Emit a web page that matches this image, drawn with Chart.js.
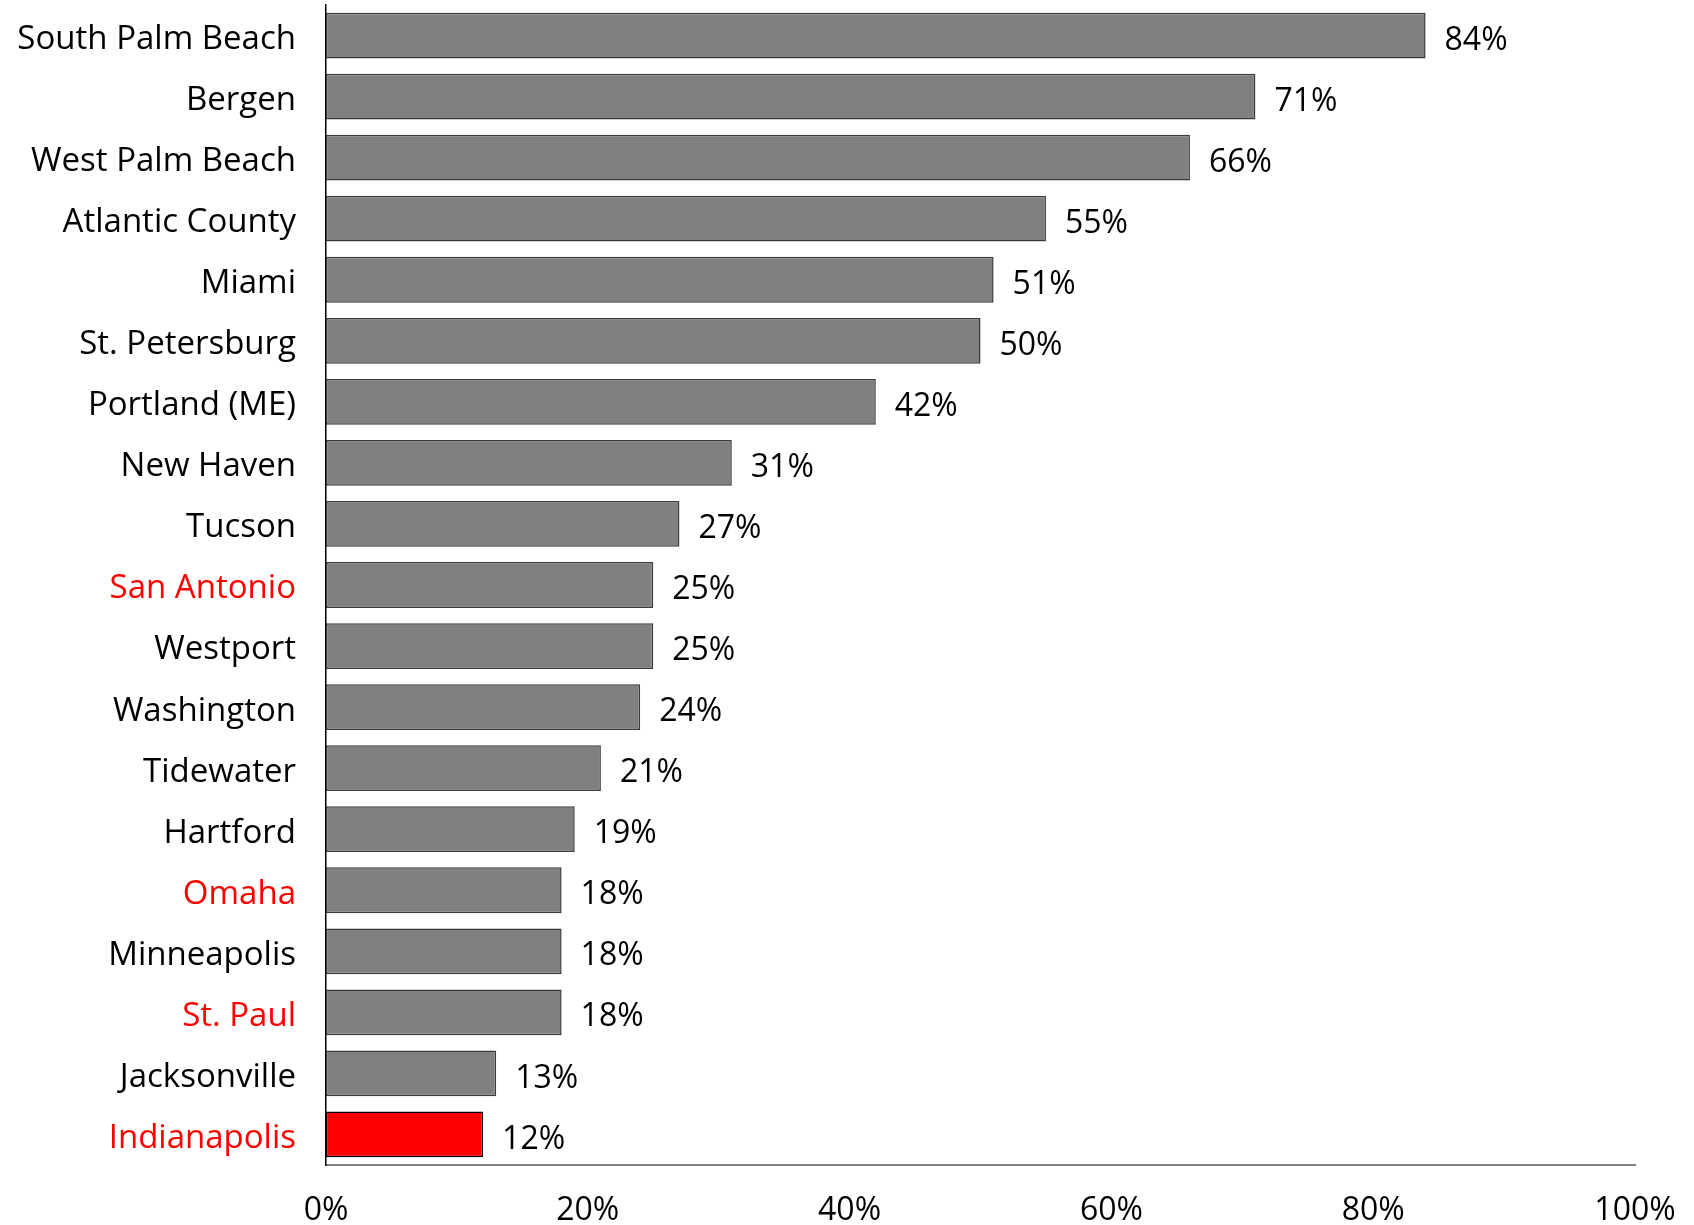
<!DOCTYPE html>
<html>
<head>
<meta charset="utf-8">
<script src="https://cdn.jsdelivr.net/npm/chart.js@4/dist/chart.umd.min.js"></script>
<style>
  html, body { margin: 0; padding: 0; background: #fff; }
  #wrap { width: 1694px; height: 1225px; }
</style>
</head>
<body>
<div id="wrap"><canvas id="bars"></canvas></div>
<script>
// Data
var cities = ['South Palm Beach', 'Bergen', 'West Palm Beach', 'Atlantic County', 'Miami',
    'St. Petersburg', 'Portland (ME)', 'New Haven', 'Tucson', 'San Antonio', 'Westport',
    'Washington', 'Tidewater', 'Hartford', 'Omaha', 'Minneapolis', 'St. Paul',
    'Jacksonville', 'Indianapolis'];
var shares = [84, 71, 66, 55, 51, 50, 42, 31, 27, 25, 25, 24, 21, 19, 18, 18, 18, 13, 12];
var highlighted = ['San Antonio', 'Omaha', 'St. Paul', 'Indianapolis'];
var focusCity = 'Indianapolis';
var xTicks = [0, 20, 40, 60, 80, 100];

var FONT = '"Open Sans", "DejaVu Sans", sans-serif';

// bar end labels
var valueLabels = {
    id: 'valueLabels',
    afterDatasetsDraw: function (chart) {
        var ctx = chart.ctx;
        var meta = chart.getDatasetMeta(0);
        ctx.save();
        ctx.font = '32px ' + FONT;
        ctx.fillStyle = '#000';
        ctx.textAlign = 'left';
        ctx.textBaseline = 'middle';
        meta.data.forEach(function (bar, i) {
            ctx.fillText(shares[i] + '%', bar.x + 19, bar.y + 5);
        });
        ctx.restore();
    }
};

var canv = document.getElementById('bars');
var chart = new Chart(canv, {
    type: 'bar',
    data: {
        labels: cities,
        datasets: [{
            data: shares,
            backgroundColor: cities.map(function (c) { return c === focusCity ? '#ff0000' : '#808080'; }),
            borderColor: cities.map(function (c) { return c === focusCity ? '#000000' : '#3a3a3a'; }),
            borderWidth: 1.5,
            borderSkipped: false,
            categoryPercentage: 0.75,
            barPercentage: 1.0
        }]
    },
    options: {
        indexAxis: 'y',
        responsive: true,
        maintainAspectRatio: false,
        animation: false,
        layout: { padding: { top: 5, right: 59, left: 0, bottom: 0 } },
        plugins: {
            legend: { display: false },
            tooltip: { enabled: false }
        },
        scales: {
            x: {
                min: 0,
                max: 100,
                afterBuildTicks: function (scale) {
                    scale.ticks = xTicks.map(function (v) { return { value: v }; });
                },
                afterFit: function (scale) {
                    scale.height = 60;
                    scale.paddingLeft = 0;
                    scale.paddingRight = 0;
                },
                grid: { display: false, drawTicks: false },
                border: { display: true, color: '#7f7f7f', width: 2 },
                ticks: {
                    padding: 27,
                    color: '#000',
                    font: { family: FONT, size: 32 },
                    maxRotation: 0,
                    callback: function (v) { return v + '%'; }
                }
            },
            y: {
                afterFit: function (scale) {
                    scale.width = 326;
                    scale.paddingTop = 0;
                    scale.paddingBottom = 0;
                },
                grid: { display: false, drawTicks: false },
                border: { display: true, color: '#000', width: 1.5 },
                ticks: {
                    padding: 30,
                    labelOffset: 4,
                    color: function (c) {
                        return highlighted.indexOf(cities[c.index]) >= 0 ? '#ff0000' : '#000';
                    },
                    font: { family: FONT, size: 33 }
                }
            }
        }
    },
    plugins: [valueLabels]
});
</script>
</body>
</html>
